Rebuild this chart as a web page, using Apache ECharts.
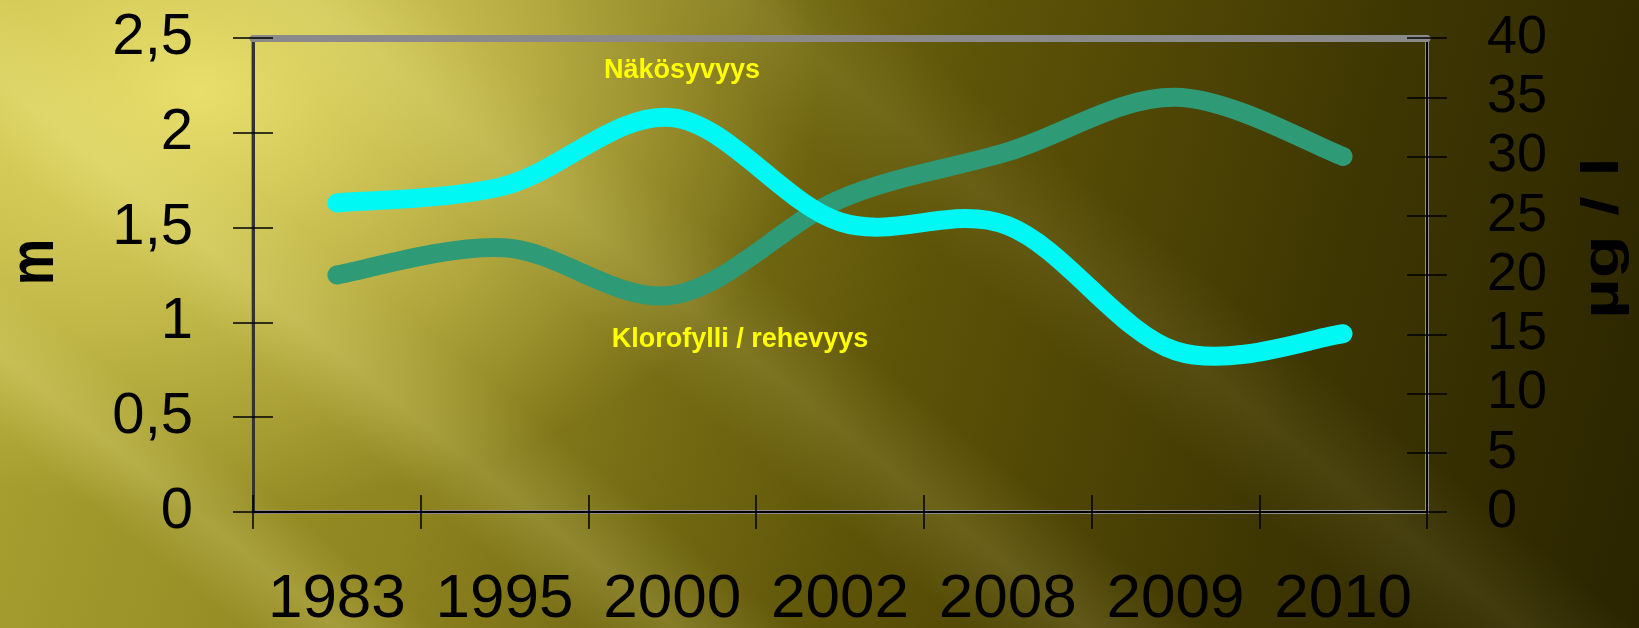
<!DOCTYPE html>
<html>
<head>
<meta charset="utf-8">
<script src="https://cdn.jsdelivr.net/npm/echarts@6/dist/echarts.min.js"></script>
<style>
  html, body { margin: 0; padding: 0; }
  body {
    width: 1639px; height: 628px; overflow: hidden;
    background:
      linear-gradient(39deg, rgba(255,250,170,0) 10%, rgba(255,250,170,0.18) 14%, rgba(255,250,170,0) 18%,
                             rgba(255,250,170,0) 24%, rgba(255,250,170,0.16) 28%, rgba(255,250,170,0) 33%,
                             rgba(255,250,170,0) 40%, rgba(255,250,170,0.12) 45%, rgba(255,250,170,0) 50%,
                             rgba(255,250,170,0) 58%, rgba(255,250,170,0.08) 63%, rgba(255,250,170,0) 68%),
      radial-gradient(ellipse 620px 420px at 200px 90px, rgba(245,235,120,0.85), rgba(245,235,120,0) 100%),
      linear-gradient(105deg, #aea634 0%, #8e8420 30%, #5e5408 55%, #3e3602 78%, #2a2400 100%);
  }
  #main { width: 1639px; height: 628px; }
</style>
</head>
<body>
<div id="main"></div>
<script>
  const years = ['1983', '1995', '2000', '2002', '2008', '2009', '2010'];
  // näkösyvyys, m (vasen akseli)
  const nakosyvyys = [1.63, 1.72, 2.08, 1.53, 1.51, 0.85, 0.94];
  // klorofylli, µg/l (oikea akseli)
  const klorofylli = [20, 22.3, 18.3, 26.4, 30.4, 35.0, 30];

  const chart = echarts.init(document.getElementById('main'));
  const font = 'Liberation Sans, Arial, sans-serif';

  // Excel-tyylinen pehmeä viiva (Catmull-Rom), pisteet akselien kautta
  function splineItem(values, color) {
    return function (params, api) {
      if (params.dataIndex !== 0) return;
      const pts = values.map((v, i) => api.coord([i, v]));
      let d = 'M' + pts[0][0] + ' ' + pts[0][1];
      for (let i = 0; i < pts.length - 1; i++) {
        const p0 = pts[Math.max(i - 1, 0)];
        const p1 = pts[i];
        const p2 = pts[i + 1];
        const p3 = pts[Math.min(i + 2, pts.length - 1)];
        const c1x = p1[0] + (p2[0] - p0[0]) / 6, c1y = p1[1] + (p2[1] - p0[1]) / 6;
        const c2x = p2[0] - (p3[0] - p1[0]) / 6, c2y = p2[1] - (p3[1] - p1[1]) / 6;
        d += ' C' + c1x + ' ' + c1y + ' ' + c2x + ' ' + c2y + ' ' + p2[0] + ' ' + p2[1];
      }
      return {
        type: 'path',
        shape: { pathData: d },
        style: { fill: null, stroke: color, lineWidth: 19, lineCap: 'round', lineJoin: 'round' }
      };
    };
  }

  const tick = { color: '#000', width: 1.5 };

  const option = {
    backgroundColor: 'transparent',
    animation: false,
    grid: {
      left: 253, right: 212, top: 38, bottom: 116,
      containLabel: false, outerBoundsMode: 'none',
      show: true, borderColor: '#8c8c8c', borderWidth: 4
    },
    xAxis: [
      {
        type: 'category', data: years, boundaryGap: true, position: 'bottom',
        axisLine: { show: true, onZero: false, lineStyle: { color: '#000', width: 2 } },
        axisTick: { show: true, interval: 0, length: 17, lineStyle: tick },
        axisLabel: { interval: 0, color: '#000', fontSize: 62, fontFamily: font, margin: 57 }
      },
      {
        type: 'category', data: years, boundaryGap: true, position: 'bottom',
        axisLine: { show: false, onZero: false },
        axisTick: { show: true, interval: 0, inside: true, length: 17, lineStyle: tick },
        axisLabel: { show: false }
      },
      {
        // yläreunan paksu harmaa viiva
        type: 'category', data: years, boundaryGap: true, position: 'top',
        axisLine: { show: true, onZero: false, lineStyle: { color: '#8a8a8a', width: 7 } },
        axisTick: { show: false }, axisLabel: { show: false }
      }
    ],
    yAxis: [
      {
        type: 'value', min: 0, max: 2.5, interval: 0.5, position: 'left',
        axisLine: { show: true, lineStyle: { color: '#333', width: 3 } },
        axisTick: { show: true, length: 20, lineStyle: tick },
        axisLabel: {
          color: '#000', fontSize: 58, fontFamily: font, margin: 60,
          formatter: v => String(v).replace('.', ',')
        },
        splitLine: { show: false }
      },
      {
        type: 'value', min: 0, max: 40, interval: 5, position: 'right',
        axisLine: { show: true, lineStyle: { color: '#000', width: 2 } },
        axisTick: { show: true, length: 20, lineStyle: tick },
        axisLabel: { color: '#000', fontSize: 54, fontFamily: font, margin: 60 },
        splitLine: { show: false }
      },
      {
        type: 'value', min: 0, max: 2.5, interval: 0.5, position: 'left',
        axisLine: { show: false },
        axisTick: { show: true, inside: true, length: 20, lineStyle: tick },
        axisLabel: { show: false }, splitLine: { show: false }
      },
      {
        type: 'value', min: 0, max: 40, interval: 5, position: 'right',
        axisLine: { show: false },
        axisTick: { show: true, inside: true, length: 20, lineStyle: tick },
        axisLabel: { show: false }, splitLine: { show: false }
      }
    ],
    series: [
      {
        name: 'Klorofylli / rehevyys', type: 'custom', yAxisIndex: 1, clip: false,
        data: klorofylli, renderItem: splineItem(klorofylli, '#2e9a76')
      },
      {
        name: 'Näkösyvyys', type: 'custom', yAxisIndex: 0, clip: false,
        data: nakosyvyys, renderItem: splineItem(nakosyvyys, '#00f8f4')
      }
    ],
    graphic: [
      {
        type: 'text', x: 35, y: 262, rotation: Math.PI / 2, scaleX: 0.9, scaleY: 1.1,
        style: { text: 'm', fill: '#000', font: 'bold 58px ' + font, align: 'center', verticalAlign: 'middle' }
      },
      {
        type: 'text', x: 1604, y: 238, rotation: Math.PI / 2, scaleX: 1.35,
        style: { text: 'µg / l', fill: '#000', font: 'bold 52px ' + font, align: 'center', verticalAlign: 'middle' }
      },
      {
        type: 'text', x: 682, y: 71,
        style: { text: 'Näkösyvyys', fill: '#ffff00', font: 'bold 27px ' + font, align: 'center', verticalAlign: 'middle' }
      },
      {
        type: 'text', x: 740, y: 340,
        style: { text: 'Klorofylli / rehevyys', fill: '#ffff00', font: 'bold 27px ' + font, align: 'center', verticalAlign: 'middle' }
      }
    ]
  };

  chart.setOption(option);
</script>
</body>
</html>
